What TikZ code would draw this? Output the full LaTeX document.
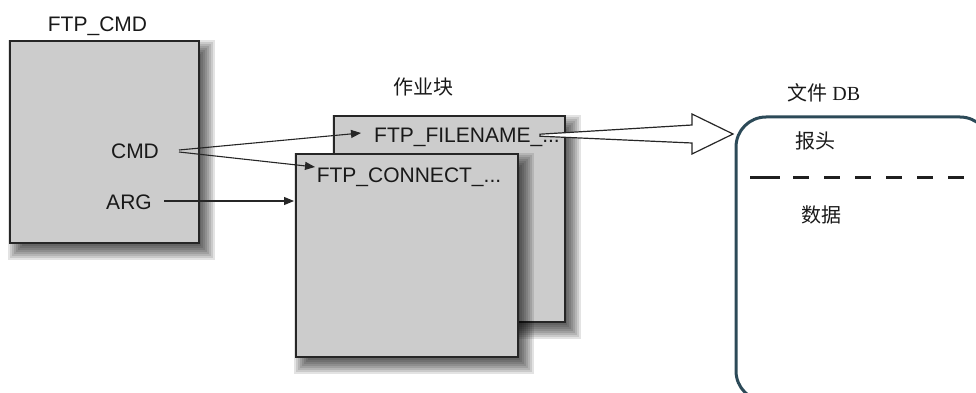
\documentclass[tikz,border=0pt]{standalone}
\usepackage{fontspec}
\setmainfont{Liberation Sans}
\newfontfamily\cjk{Noto Sans CJK SC}
\newfontfamily\dbserif{Liberation Serif}
\usetikzlibrary{arrows.meta,calc}
\definecolor{boxgray}{RGB}{204,204,204}
\definecolor{edgec}{RGB}{38,38,38}
\definecolor{dbedge}{RGB}{44,74,88}
\definecolor{txtc}{RGB}{25,25,25}
\newcommand\boxshade[1]{%
  \foreach \e in {-9,-7,...,9} {%
    \fill[black, fill opacity=0.11]
      ($(#1.north west)+(7-\e,8-\e)$) rectangle ($(#1.south east)+(7+\e,8+\e)$);
  }%
}
\begin{document}
\begin{tikzpicture}[x=1pt,y=-1pt,
  blkshape/.style={inner sep=0pt, outer sep=0pt},
  blkfill/.style={draw=edgec, line width=1.4pt, fill=boxgray},
  txt/.style={inner sep=0pt, text=txtc, font=\fontsize{21}{25}\selectfont},
  cjktxt/.style={inner sep=0pt, text=txtc, font=\cjk\fontsize{20}{24}\selectfont},
  conn/.style={draw=edgec, line width=1.1pt, -{Triangle[length=10pt,width=8pt]}},
  dbbox/.style={draw=dbedge, line width=3pt, rounded corners=30pt, inner sep=0pt},
  sep/.style={draw=black!88, line width=3pt}
]
\useasboundingbox (0,0) rectangle (976,393);
\clip (0,0) rectangle (976,393);

% boxes (shape, shadow, then filled frame)
\node[blkshape, minimum width=189pt, minimum height=202pt] (cmdbox) at (104.5,142) {};
\boxshade{cmdbox}
\draw[blkfill] (cmdbox.north west) rectangle (cmdbox.south east);

\node[blkshape, minimum width=231pt, minimum height=206pt] (fnbox) at (449.5,219) {};
\boxshade{fnbox}
\draw[blkfill] (fnbox.north west) rectangle (fnbox.south east);

\node[blkshape, minimum width=222pt, minimum height=203pt] (cnbox) at (407,255.5) {};
\boxshade{cnbox}
\draw[blkfill] (cnbox.north west) rectangle (cnbox.south east);

\node[dbbox, minimum width=254pt, minimum height=284pt] (db) at (863,259) {};

% labels
\node[txt, anchor=base] (cmdlbl) at (97.5,32) {FTP\_CMD};
\node[txt, anchor=base] (cmd) at (135,158) {CMD};
\node[txt, anchor=base] (arg) at (129,209) {ARG};
\node[txt, anchor=base] (fn) at (467,142) {FTP\_FILENAME\_...};
\node[txt, anchor=base] (cn) at (409,182) {FTP\_CONNECT\_...};
\node[cjktxt] (jobs) at (423,87) {作业块};
\node[cjktxt] (dblbl) at (824,93) {文件\ {\dbserif DB}};
\node[cjktxt] (hdr) at (815,141) {报头};
\node[cjktxt] (data) at (821,215) {数据};

% connector points
\coordinate (cmdA) at (179,150);
\coordinate (cmdB) at (179,152);
\coordinate (argA) at (164,201);
\coordinate (fnIn) at (361,133);
\coordinate (cnIn) at (315,167);
\coordinate (argIn) at (294,201);

\draw[conn] (cmdA) -- (fnIn);
\draw[conn] (cmdB) -- (cnIn);
\draw[conn] (argA) -- (argIn);

% big hollow arrow
\draw[draw=edgec, line width=1.2pt, fill=white, line join=miter]
  (540,134.2) -- (692,125) -- (692,114) -- (733,134) -- (692,154) -- (692,143) -- (540,136.2) -- cycle;

% separator
\draw[sep] (750,177) -- (780,177);
\draw[sep, dash pattern=on 16pt off 15pt] (793,177) -- (964,177);
\end{tikzpicture}
\end{document}
